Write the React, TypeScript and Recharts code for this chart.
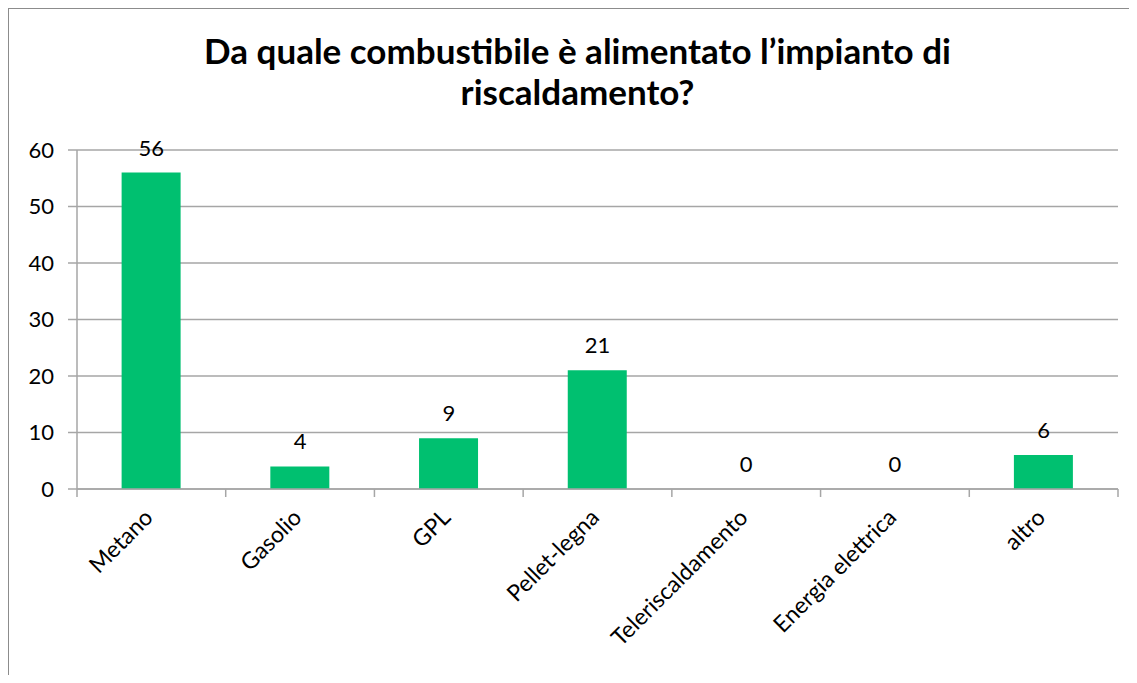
import { ComposedChart, Bar, Line, CartesianGrid, XAxis, YAxis, LabelList } from 'recharts';

const categories = [
  'Metano',
  'Gasolio',
  'GPL',
  'Pellet-legna',
  'Teleriscaldamento',
  'Energia elettrica',
  'altro',
];
const counts = [56, 4, 9, 21, 0, 0, 6];
const yTicks = [0, 10, 20, 30, 40, 50, 60];
const titleLines = ['Da quale combustibile è alimentato l’impianto di', 'riscaldamento?'];

const data = categories.map((name, i) => ({ name, value: counts[i] }));

const FONT = 'Lato, "Open Sans", sans-serif';
const GRID = '#a6a6a6';
const BAR = '#00c070';

// category label rotated 45°, plus the boundary tick marks Excel draws between categories
const CategoryTick = (props: any) => {
  const { x, y, payload, index, width } = props;
  const band = width / categories.length;
  const tx = x + 3;
  const ty = y + 30;
  return (
    <g>
      <line x1={x - band / 2} y1={y} x2={x - band / 2} y2={y + 8} stroke={GRID} strokeWidth={1.5} />
      {index === categories.length - 1 && (
        <line x1={x + band / 2} y1={y} x2={x + band / 2} y2={y + 8} stroke={GRID} strokeWidth={1.5} />
      )}
      <text
        x={tx}
        y={ty}
        transform={`rotate(-45, ${tx}, ${ty})`}
        textAnchor="end"
        fontFamily={FONT}
        fontSize={23}
        fill="#000"
      >
        {payload.value}
      </text>
    </g>
  );
};

export default function App() {
  return (
    <div style={{ position: 'relative', width: 1129, height: 667, background: '#fff' }}>
      <div
        style={{
          position: 'absolute',
          left: 10,
          top: 22,
          width: 1119,
          textAlign: 'center',
          fontFamily: FONT,
          fontWeight: 700,
          fontSize: 35,
          lineHeight: '41px',
          color: '#000',
          zIndex: 2,
        }}
      >
        {titleLines.map((t) => (
          <div key={t}>{t}</div>
        ))}
      </div>
      <ComposedChart
        width={1129}
        height={667}
        data={data}
        margin={{ top: 142, right: 19, bottom: 10, left: 0 }}
        barCategoryGap="30%"
      >
        <CartesianGrid vertical={false} stroke={GRID} strokeWidth={1.5} />
        <XAxis
          dataKey="name"
          interval={0}
          height={176}
          tickSize={0}
          tickMargin={0}
          axisLine={{ stroke: GRID, strokeWidth: 1.5 }}
          tickLine={false}
          tick={<CategoryTick />}
        />
        <YAxis
          width={69}
          domain={[0, 60]}
          ticks={yTicks}
          interval={0}
          tickSize={9}
          tickMargin={14}
          axisLine={{ stroke: GRID, strokeWidth: 1.5 }}
          tickLine={{ stroke: GRID, strokeWidth: 1.5 }}
          tick={{ fill: '#000', fontSize: 22, fontFamily: FONT }}
        />
        <Bar dataKey="value" fill={BAR} isAnimationActive={false} />
        {/* invisible line carrying the value labels, so zero values get a label too */}
        <Line
          dataKey="value"
          stroke="none"
          dot={false}
          activeDot={false}
          isAnimationActive={false}
        >
          <LabelList
            dataKey="value"
            position="top"
            offset={17}
            fill="#000"
            fontSize={22}
            fontFamily={FONT}
          />
        </Line>
      </ComposedChart>
      {/* chart area frame: only left and top edges fall inside the picture */}
      <div
        style={{
          position: 'absolute',
          left: 0,
          top: 0,
          width: 1129,
          height: 667,
          borderLeft: '1.5px solid #8c8c8c',
          borderTop: '1.5px solid #8c8c8c',
          boxSizing: 'border-box',
          pointerEvents: 'none',
          zIndex: 3,
        }}
      />
    </div>
  );
}
